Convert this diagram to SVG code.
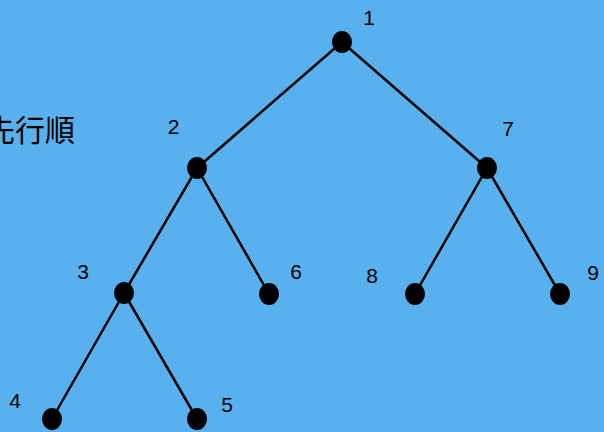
<svg xmlns="http://www.w3.org/2000/svg" width="604" height="432" viewBox="0 0 604 432">
  <style>
    .edge { stroke: #000; stroke-width: 2.5; fill: none; }
    .dot { fill: #000; }
    .lbl { font-family: "Liberation Sans", Arial, sans-serif; font-size: 21px; fill: #000; text-anchor: middle; }
    .title { font-family: "Noto Sans CJK JP", "Noto Sans CJK SC", sans-serif; font-size: 30px; fill: #000; }
  </style>
  <rect width="604" height="432" fill="#58b1ee"/>
  <text class="title" x="-15" y="141">先行順</text>
  <g id="connectors">
    <line class="edge" x1="342" y1="42" x2="197" y2="168"/>
    <line class="edge" x1="342" y1="42" x2="487" y2="168"/>
    <line class="edge" x1="197" y1="168" x2="124" y2="293"/>
    <line class="edge" x1="197" y1="168" x2="269" y2="294"/>
    <line class="edge" x1="487" y1="168" x2="415" y2="294"/>
    <line class="edge" x1="487" y1="168" x2="560" y2="294"/>
    <line class="edge" x1="124" y1="293" x2="52" y2="419"/>
    <line class="edge" x1="124" y1="293" x2="197" y2="419"/>
  </g>
  <g id="n1"><ellipse class="dot" cx="342" cy="42" rx="10" ry="11"/><text class="lbl" x="369" y="25">1</text></g>
  <g id="n2"><ellipse class="dot" cx="197" cy="168" rx="10" ry="11"/><text class="lbl" x="173.5" y="134">2</text></g>
  <g id="n3"><ellipse class="dot" cx="124" cy="293" rx="10" ry="11"/><text class="lbl" x="83" y="279">3</text></g>
  <g id="n4"><ellipse class="dot" cx="52" cy="419" rx="10" ry="11"/><text class="lbl" x="15" y="408">4</text></g>
  <g id="n5"><ellipse class="dot" cx="197" cy="419" rx="10" ry="11"/><text class="lbl" x="227" y="412">5</text></g>
  <g id="n6"><ellipse class="dot" cx="269" cy="294" rx="10" ry="11"/><text class="lbl" x="296" y="279">6</text></g>
  <g id="n7"><ellipse class="dot" cx="487" cy="168" rx="10" ry="11"/><text class="lbl" x="508" y="136">7</text></g>
  <g id="n8"><ellipse class="dot" cx="415" cy="294" rx="10" ry="11"/><text class="lbl" x="372" y="283">8</text></g>
  <g id="n9"><ellipse class="dot" cx="560" cy="294" rx="10" ry="11"/><text class="lbl" x="593" y="280">9</text></g>
</svg>
